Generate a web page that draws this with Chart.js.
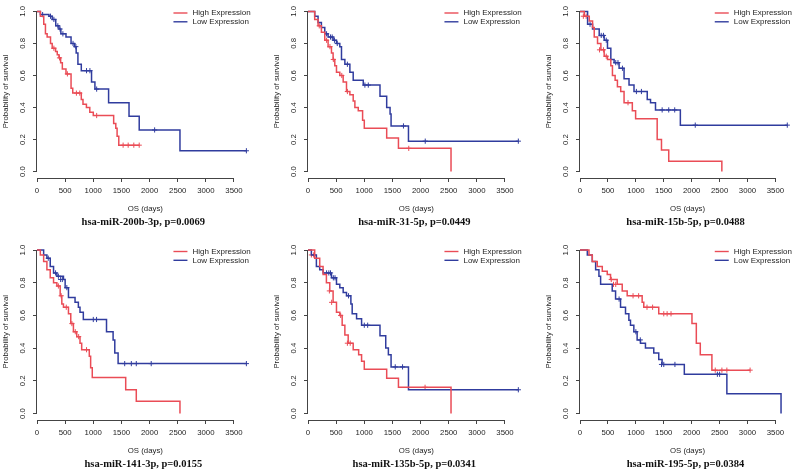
<!DOCTYPE html>
<html><head><meta charset="utf-8">
<script src="https://cdn.jsdelivr.net/npm/chart.js@4.4.1/dist/chart.umd.min.js"></script>
<style>
html,body{margin:0;padding:0;background:#fff;}
body{width:800px;height:474px;overflow:hidden;position:relative;}
canvas{position:absolute;}
</style></head>
<body>
<script>
// ---------- DATA ----------
const xTicks = [0, 500, 1000, 1500, 2000, 2500, 3000, 3500];
const yTicks = [0, 0.2, 0.4, 0.6, 0.8, 1.0];
const yTickLabels = ['0.0', '0.2', '0.4', '0.6', '0.8', '1.0'];
const seriesNames = ['High Expression', 'Low Expression'];
const xTitle = 'OS (days)';
const yTitle = 'Probability of survival';
const panelTitles = ['hsa-miR-200b-3p, p=0.0069', 'hsa-miR-31-5p, p=0.0449', 'hsa-miR-15b-5p, p=0.0488',
                     'hsa-miR-141-3p, p=0.0155', 'hsa-miR-135b-5p, p=0.0341', 'hsa-miR-195-5p, p=0.0384'];

// Panel 1: hsa-miR-200b-3p
const p1HighT = [0, 60, 120, 150, 180, 240, 270, 330, 360, 390, 420, 450, 515, 605, 635, 787, 817, 878, 938, 1000, 1362, 1400, 1423, 1453, 1816];
const p1HighS = [1, 0.97, 0.92, 0.86, 0.84, 0.80, 0.77, 0.75, 0.73, 0.71, 0.68, 0.64, 0.61, 0.52, 0.49, 0.45, 0.42, 0.40, 0.37, 0.35, 0.30, 0.27, 0.22, 0.165, 0.165];
const p1HighCens = [[300,0.77],[400,0.71],[540,0.61],[700,0.49],[760,0.49],[1060,0.35],[1530,0.165],[1620,0.165],[1720,0.165],[1816,0.165]];
const p1LowT = [0, 60, 212, 270, 333, 390, 424, 515, 605, 666, 696, 727, 787, 969, 1029, 1272, 1635, 1816, 2540, 3720];
const p1LowS = [1, 0.98, 0.97, 0.95, 0.91, 0.89, 0.86, 0.84, 0.80, 0.78, 0.74, 0.67, 0.63, 0.56, 0.515, 0.43, 0.345, 0.26, 0.13, 0.13];
const p1LowCens = [[100,0.98],[240,0.97],[300,0.95],[370,0.91],[410,0.89],[460,0.86],[640,0.80],[690,0.78],[880,0.63],[940,0.63],[1060,0.515],[2090,0.26],[3720,0.13]];

// Panel 2: hsa-miR-31-5p
const p2HighT = [0, 119, 179, 238, 298, 357, 417, 446, 476, 506, 565, 625, 684, 744, 803, 833, 893, 970, 1000, 1398, 1607, 2541];
const p2HighS = [1, 0.95, 0.91, 0.87, 0.82, 0.78, 0.74, 0.70, 0.66, 0.62, 0.60, 0.56, 0.50, 0.48, 0.44, 0.40, 0.38, 0.32, 0.27, 0.21, 0.145, 0];
const p2HighCens = [[200,0.91],[330,0.82],[390,0.78],[450,0.70],[600,0.60],[700,0.50],[1790,0.145]];
const p2LowT = [0, 119, 179, 238, 298, 357, 446, 506, 565, 595, 655, 744, 803, 982, 1279, 1398, 1458, 1476, 1785, 3737];
const p2LowS = [1, 0.97, 0.93, 0.90, 0.86, 0.84, 0.82, 0.80, 0.78, 0.70, 0.67, 0.62, 0.57, 0.54, 0.47, 0.40, 0.36, 0.285, 0.19, 0.19];
const p2LowCens = [[330,0.86],[400,0.84],[430,0.84],[470,0.82],[520,0.80],[700,0.67],[1011,0.54],[1071,0.54],[1696,0.285],[2083,0.19],[3737,0.19]];

// Panel 3: hsa-miR-15b-5p
const p3HighT = [0, 77, 166, 225, 255, 314, 374, 433, 492, 552, 581, 629, 670, 729, 789, 937, 996, 1382, 1459, 1589, 2540];
const p3HighS = [1, 0.97, 0.94, 0.90, 0.84, 0.80, 0.76, 0.72, 0.70, 0.66, 0.60, 0.57, 0.53, 0.50, 0.43, 0.38, 0.33, 0.20, 0.135, 0.065, 0];
const p3HighCens = [[60,0.97],[110,0.97],[350,0.76],[420,0.76],[470,0.72],[860,0.43]];
const p3LowT = [0, 136, 225, 344, 433, 492, 552, 611, 700, 789, 878, 967, 1204, 1263, 1352, 1797, 3712];
const p3LowS = [1, 0.92, 0.89, 0.85, 0.82, 0.77, 0.70, 0.68, 0.645, 0.58, 0.54, 0.50, 0.45, 0.43, 0.385, 0.29, 0.29];
const p3LowCens = [[180,0.92],[380,0.85],[420,0.85],[470,0.82],[640,0.68],[680,0.68],[760,0.645],[1010,0.50],[1100,0.50],[1471,0.385],[1589,0.385],[1696,0.385],[2064,0.29],[3712,0.29]];

// Panel 4: hsa-miR-141-3p
const p4HighT = [0, 59, 118, 176, 235, 294, 353, 412, 441, 470, 559, 600, 647, 706, 764, 794, 929, 953, 982, 1576, 1764, 2540];
const p4HighS = [1, 0.97, 0.93, 0.88, 0.83, 0.80, 0.78, 0.72, 0.67, 0.65, 0.61, 0.55, 0.50, 0.47, 0.43, 0.39, 0.35, 0.28, 0.22, 0.145, 0.075, 0];
const p4HighCens = [[380,0.78],[430,0.72],[520,0.65],[620,0.55],[680,0.50],[740,0.47],[880,0.39]];
const p4LowT = [0, 118, 176, 235, 294, 353, 470, 500, 559, 676, 735, 764, 823, 1235, 1352, 1382, 1441, 3720];
const p4LowS = [1, 0.97, 0.95, 0.90, 0.86, 0.84, 0.82, 0.77, 0.71, 0.68, 0.65, 0.62, 0.575, 0.50, 0.45, 0.37, 0.305, 0.305];
const p4LowCens = [[200,0.95],[330,0.86],[380,0.84],[420,0.82],[450,0.82],[530,0.77],[1000,0.575],[1058,0.575],[1558,0.305],[1676,0.305],[1764,0.305],[2029,0.305],[3720,0.305]];

// Panel 5: hsa-miR-135b-5p
const p5HighT = [0, 119, 208, 268, 327, 387, 446, 506, 565, 607, 655, 714, 803, 900, 952, 1000, 1398, 1607, 2541];
const p5HighS = [1, 0.95, 0.90, 0.85, 0.80, 0.75, 0.68, 0.62, 0.60, 0.54, 0.48, 0.43, 0.39, 0.36, 0.32, 0.27, 0.215, 0.16, 0];
const p5HighCens = [[60,0.97],[100,0.97],[380,0.75],[420,0.68],[580,0.60],[700,0.43],[750,0.43],[2080,0.16]];
const p5LowT = [0, 60, 149, 208, 268, 417, 506, 565, 625, 684, 762, 785, 863, 952, 1279, 1381, 1428, 1476, 1785, 3737];
const p5LowS = [1, 0.97, 0.90, 0.88, 0.86, 0.83, 0.79, 0.77, 0.74, 0.72, 0.67, 0.61, 0.58, 0.54, 0.475, 0.40, 0.36, 0.285, 0.145, 0.145];
const p5LowCens = [[330,0.86],[370,0.86],[400,0.86],[450,0.83],[480,0.83],[720,0.72],[1000,0.54],[1060,0.54],[1550,0.285],[1680,0.285],[3737,0.145]];

// Panel 6: hsa-miR-195-5p
const p6HighT = [0, 161, 220, 309, 399, 488, 547, 666, 756, 845, 1113, 1142, 1410, 2005, 2083, 2154, 2362, 3046];
const p6HighS = [1, 0.97, 0.93, 0.90, 0.87, 0.85, 0.82, 0.79, 0.75, 0.72, 0.68, 0.65, 0.61, 0.55, 0.43, 0.36, 0.265, 0.265];
const p6HighCens = [[560,0.82],[600,0.79],[640,0.79],[950,0.72],[1050,0.72],[1200,0.65],[1300,0.65],[1500,0.61],[1560,0.61],[1630,0.61],[2422,0.265],[2541,0.265],[2630,0.265],[3046,0.265]];
const p6LowT = [0, 131, 220, 280, 339, 369, 577, 637, 726, 815, 875, 904, 964, 1023, 1083, 1172, 1321, 1410, 1470, 1868, 2630, 3600];
const p6LowS = [1, 0.97, 0.93, 0.88, 0.84, 0.79, 0.75, 0.70, 0.65, 0.61, 0.57, 0.54, 0.50, 0.45, 0.43, 0.40, 0.37, 0.33, 0.30, 0.24, 0.12, 0];
const p6LowCens = [[700,0.70],[1000,0.50],[1080,0.45],[1460,0.30],[1500,0.30],[1700,0.30],[2460,0.24],[2500,0.24]];

const panelsData = [
  [p1HighT, p1HighS, p1HighCens, p1LowT, p1LowS, p1LowCens],
  [p2HighT, p2HighS, p2HighCens, p2LowT, p2LowS, p2LowCens],
  [p3HighT, p3HighS, p3HighCens, p3LowT, p3LowS, p3LowCens],
  [p4HighT, p4HighS, p4HighCens, p4LowT, p4LowS, p4LowCens],
  [p5HighT, p5HighS, p5HighCens, p5LowT, p5LowS, p5LowCens],
  [p6HighT, p6HighS, p6HighCens, p6LowT, p6LowS, p6LowCens]
];

// ---------- LAYOUT / STYLE ----------
const RED = 'rgb(234,76,86)';
const BLUE = 'rgb(48,60,158)';
const AXIS = '#444';
const TXT = '#1e1e1e';
const SANS = '"Liberation Sans", Arial, sans-serif';
const SERIF = '"Liberation Serif", "Times New Roman", serif';
const colLeft = [0, 265, 530], colW = [265, 265, 270];
const rowTop = [0, 237], rowH = [237, 237];
const colX0 = [37, 308, 580];          // pixel of day 0
const rowRegTop = [1.5, 243.5];        // pixel of y = 1.04
const rowRegBot = [178, 420];          // pixel of y = -0.04
const regW = 216.7;                    // 0..3850 days
const XMAX = 3850;

const decor = {
  id: 'decor',
  afterDraw(chart, args, o) {
    const ctx = chart.ctx, ca = chart.chartArea;
    const xs = chart.scales.x, ys = chart.scales.y;
    ctx.save();
    ctx.strokeStyle = AXIS; ctx.lineWidth = 1;
    ctx.beginPath();
    const yb = Math.round(ca.bottom) + 0.5;
    ctx.moveTo(xs.getPixelForValue(xTicks[0]), yb);
    ctx.lineTo(xs.getPixelForValue(xTicks[xTicks.length - 1]), yb);
    const xl = Math.round(ca.left) - 0.5;
    ctx.moveTo(xl, ys.getPixelForValue(yTicks[0]));
    ctx.lineTo(xl, ys.getPixelForValue(yTicks[yTicks.length - 1]));
    ctx.stroke();
    ctx.fillStyle = TXT;
    ctx.font = '7.8px ' + SANS;
    ctx.textAlign = 'center'; ctx.textBaseline = 'middle';
    yTicks.forEach((v, i) => {
      ctx.save();
      ctx.translate(ca.left - 14, ys.getPixelForValue(v));
      ctx.rotate(-Math.PI / 2);
      ctx.fillText(yTickLabels[i], 0, 0);
      ctx.restore();
    });
    ctx.save();
    ctx.translate(ca.left - 31, (ca.top + ca.bottom) / 2);
    ctx.rotate(-Math.PI / 2);
    ctx.fillText(yTitle, 0, 0);
    ctx.restore();
    const cx = (ca.left + ca.right) / 2;
    ctx.fillText(xTitle, cx, ca.bottom + 31);
    ctx.font = 'bold 10.5px ' + SERIF;
    ctx.fillStyle = '#111';
    ctx.fillText(o.title, cx - 2, ca.bottom + 44.5);
    ctx.font = '8px ' + SANS;
    ctx.textAlign = 'left';
    ctx.fillStyle = TXT;
    const tx = ca.right - 3 - ctx.measureText(seriesNames[0]).width;
    [RED, BLUE].forEach((c, i) => {
      const y = ca.top + 8 + i * 8.8;
      ctx.strokeStyle = c; ctx.lineWidth = 1.4;
      ctx.beginPath(); ctx.moveTo(tx - 19, y); ctx.lineTo(tx - 5, y); ctx.stroke();
      ctx.fillText(seriesNames[i], tx, y);
    });
    ctx.restore();
  }
};

function pts(T, S) { return T.map((t, i) => ({ x: t, y: S[i] })); }
function cens(C) { return C.map(p => ({ x: p[0], y: p[1] })); }

panelsData.forEach((pd, k) => {
  const c = k % 3, r = Math.floor(k / 3);
  const cv = document.createElement('canvas');
  cv.width = colW[c]; cv.height = rowH[r];
  cv.style.left = colLeft[c] + 'px'; cv.style.top = rowTop[r] + 'px';
  cv.style.width = colW[c] + 'px'; cv.style.height = rowH[r] + 'px';
  document.body.appendChild(cv);
  const leftW = colX0[c] - colLeft[c];
  const topP = rowRegTop[r] - rowTop[r];
  const botH = rowH[r] - (rowRegBot[r] - rowTop[r]);
  const rightP = colW[c] - leftW - regW;
  const [hT, hS, hC, lT, lS, lC] = pd;
  new Chart(cv, {
    type: 'line',
    data: {
      datasets: [
        { label: seriesNames[0], data: pts(hT, hS), borderColor: RED, borderWidth: 1.5, stepped: 'before', pointRadius: 0, fill: false },
        { label: seriesNames[1], data: pts(lT, lS), borderColor: BLUE, borderWidth: 1.5, stepped: 'before', pointRadius: 0, fill: false },
        { data: cens(hC), showLine: false, pointStyle: 'cross', pointRadius: 2.6, borderColor: RED, backgroundColor: RED, borderWidth: 1 },
        { data: cens(lC), showLine: false, pointStyle: 'cross', pointRadius: 2.6, borderColor: BLUE, backgroundColor: BLUE, borderWidth: 1 }
      ]
    },
    options: {
      responsive: false, animation: false, devicePixelRatio: 1,
      layout: { padding: { left: 0, top: topP, right: rightP, bottom: 0 } },
      plugins: { legend: { display: false }, tooltip: { enabled: false }, decor: { title: panelTitles[k] } },
      scales: {
        x: {
          type: 'linear', min: 0, max: XMAX,
          afterBuildTicks: s => { s.ticks = xTicks.map(v => ({ value: v })); },
          afterFit: s => { s.height = botH; },
          ticks: { autoSkip: false, maxRotation: 0, minRotation: 0, padding: 4, color: TXT, font: { family: SANS, size: 7.8 }, callback: v => String(v) },
          grid: { drawOnChartArea: false, drawTicks: true, tickLength: 4, color: AXIS, lineWidth: 1 },
          border: { display: false }
        },
        y: {
          type: 'linear', min: -0.04, max: 1.04,
          afterBuildTicks: s => { s.ticks = yTicks.map(v => ({ value: v })); },
          afterFit: s => { s.width = leftW; },
          ticks: { display: false },
          grid: { drawOnChartArea: false, drawTicks: true, tickLength: 4, color: AXIS, lineWidth: 1 },
          border: { display: false }
        }
      }
    },
    plugins: [decor]
  });
});
</script>
</body></html>
